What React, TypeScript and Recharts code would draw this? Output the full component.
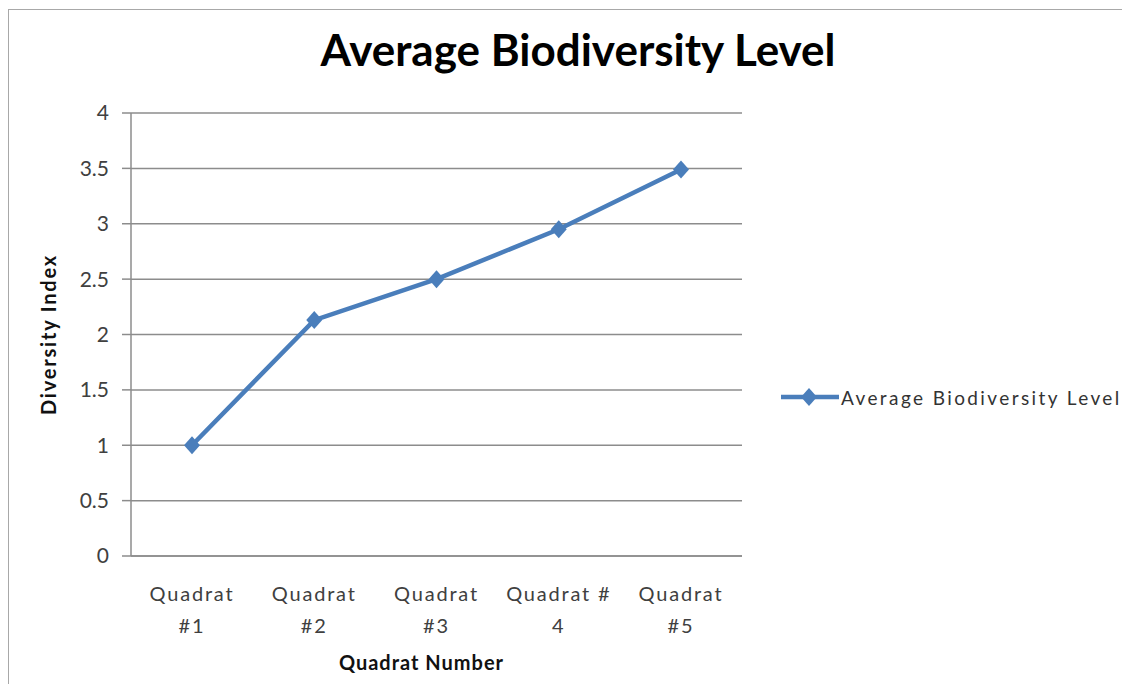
import React from "react";
import { LineChart, Line, XAxis, YAxis, CartesianGrid, Legend } from "recharts";

const categories = ["Quadrat #1", "Quadrat #2", "Quadrat #3", "Quadrat # 4", "Quadrat #5"];
const biodiversity = [1.0, 2.13, 2.5, 2.95, 3.49];
const yTicks = [0, 0.5, 1, 1.5, 2, 2.5, 3, 3.5, 4];
const seriesName = "Average Biodiversity Level";

const data = categories.map((name, i) => ({ name, value: biodiversity[i] }));

const FONT = "Lato, 'Open Sans', sans-serif";
const BLUE = "#4a7ebb";
const GRID = "#8c8c8c";
const TEXT = "#404040";

// Excel wraps the category labels: last word on the second line
function QuadratTick({ x, y, payload }: any) {
  const words = String(payload.value).split(" ");
  const last = words.pop();
  return (
    <text
      x={x}
      y={y}
      textAnchor="middle"
      fontFamily={FONT}
      fontSize={20}
      letterSpacing={1.8}
      fill={TEXT}
    >
      <tspan x={x} dy={45}>{words.join(" ")}</tspan>
      <tspan x={x} dy={32}>{last}</tspan>
    </text>
  );
}

const Diamond = ({ cx, cy }: any) => {
  if (cx == null || cy == null) return null;
  return (
    <polygon
      points={`${cx},${cy - 9} ${cx + 8},${cy} ${cx},${cy + 9} ${cx - 8},${cy}`}
      fill={BLUE}
    />
  );
};

const renderLegend = ({ payload }: any) => (
  <div style={{ display: "flex", alignItems: "center" }}>
    <svg width={58} height={24}>
      <line x1={0} y1={12} x2={58} y2={12} stroke={BLUE} strokeWidth={4.5} />
      <polygon points="28,3 36,12 28,21 20,12" fill={BLUE} />
    </svg>
    <span
      style={{
        fontFamily: FONT,
        fontSize: 19,
        color: "#333",
        marginLeft: 2,
        letterSpacing: 2.4,
        whiteSpace: "nowrap",
      }}
    >
      {payload?.[0]?.value ?? seriesName}
    </span>
  </div>
);

export default function App() {
  return (
    <div
      style={{
        position: "relative",
        top: 1,
        width: 1122,
        height: 675,
        borderLeft: "1px solid #a8a8a8",
        borderTop: "1px solid #a8a8a8",
        background: "#fff",
      }}
    >
      <div
        style={{
          position: "absolute",
          left: 69,
          top: 13,
          width: 1000,
          textAlign: "center",
          fontFamily: FONT,
          fontWeight: 700,
          fontSize: 44,
          lineHeight: "52px",
          color: "#000",
        }}
      >
        Average Biodiversity Level
      </div>
      <LineChart
        width={1121}
        height={674}
        data={data}
        margin={{ top: 103, right: 388, bottom: 0, left: 0 }}
      >
        <CartesianGrid vertical={false} stroke={GRID} strokeWidth={1.5} />
        <XAxis
          dataKey="name"
          height={128}
          interval={0}
          padding={{ left: 61, right: 61 }}
          tickLine={false}
          tickSize={0}
          tickMargin={0}
          axisLine={{ stroke: GRID, strokeWidth: 1.5 }}
          tick={<QuadratTick />}
          label={{
            content: ({ viewBox }: any) => (
              <text
                x={viewBox.x + viewBox.width / 2 - 15}
                y={viewBox.y + 114}
                textAnchor="middle"
                fontFamily={FONT}
                fontWeight={700}
                fontSize={20}
                letterSpacing={1}
                fill="#111"
              >
                Quadrat Number
              </text>
            ),
          }}
        />
        <YAxis
          width={122}
          domain={[0, 4]}
          ticks={yTicks}
          interval={0}
          tickSize={9}
          tickMargin={13}
          axisLine={{ stroke: GRID, strokeWidth: 1.5 }}
          tickLine={{ stroke: GRID, strokeWidth: 1.5 }}
          tick={{ fontFamily: FONT, fontSize: 21, fill: TEXT }}
          label={{
            content: ({ viewBox }: any) => {
              const cx = viewBox.x + 39;
              const cy = viewBox.y + viewBox.height / 2;
              return (
                <text
                  x={cx}
                  y={cy}
                  transform={`rotate(-90 ${cx} ${cy})`}
                  textAnchor="middle"
                  dominantBaseline="central"
                  fontFamily={FONT}
                  fontWeight={700}
                  fontSize={20}
                  letterSpacing={1.8}
                  fill="#111"
                >
                  Diversity Index
                </text>
              );
            },
          }}
        />
        <Legend
          layout="horizontal"
          verticalAlign="middle"
          align="center"
          wrapperStyle={{ left: 772, top: 375, width: 360 }}
          content={renderLegend}
        />
        <Line
          type="linear"
          dataKey="value"
          name={seriesName}
          stroke={BLUE}
          strokeWidth={4.5}
          dot={<Diamond />}
          activeDot={false}
          isAnimationActive={false}
        />
      </LineChart>
    </div>
  );
}
